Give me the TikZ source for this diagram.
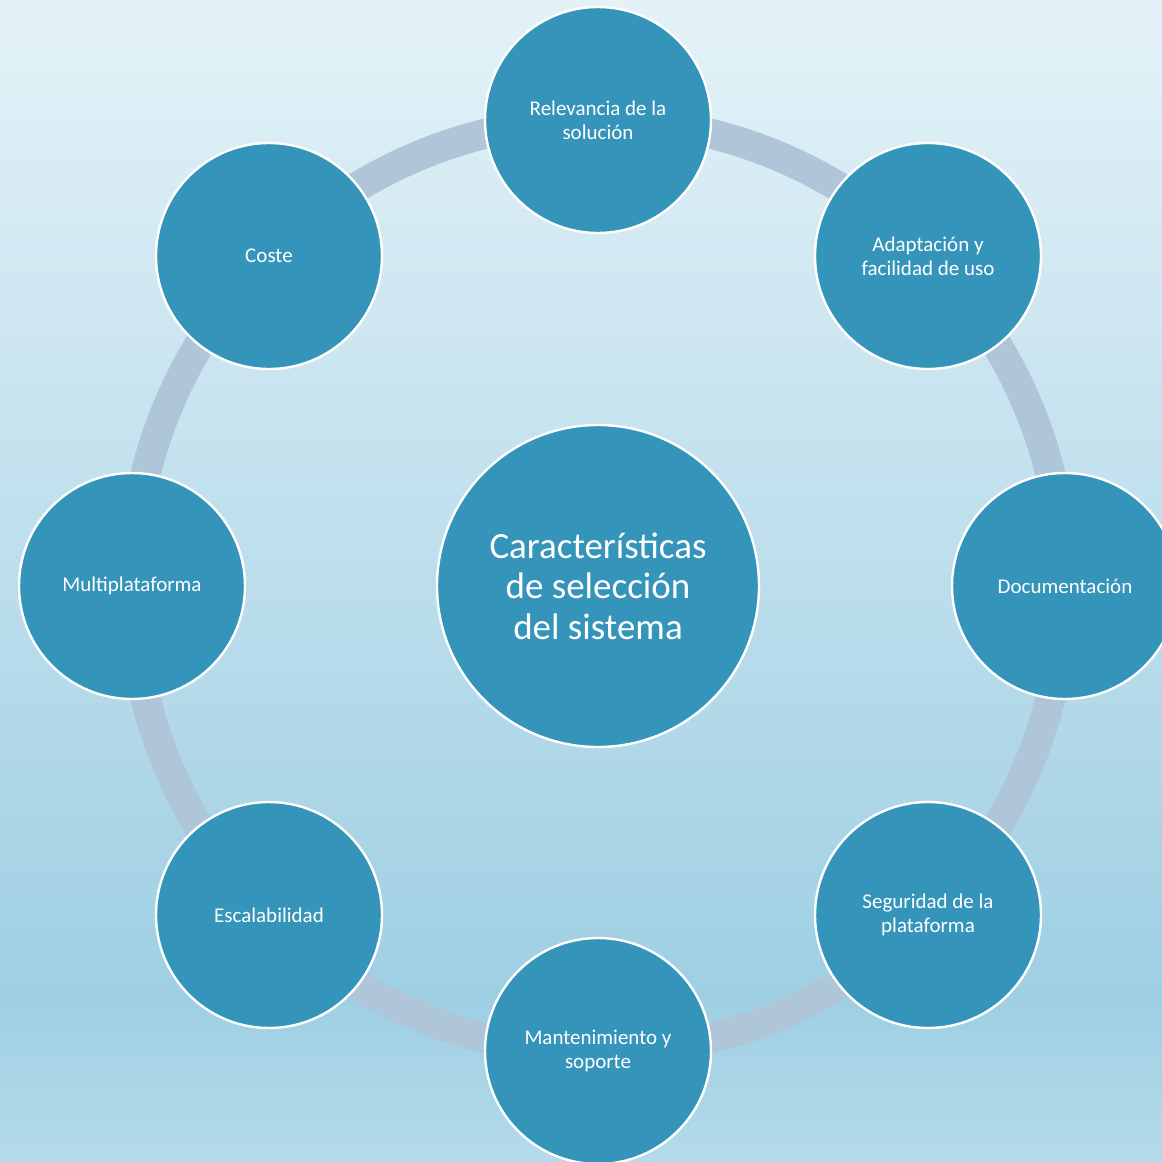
\documentclass[tikz,border=0pt]{standalone}
\usepackage{fontspec}
\setmainfont{Carlito}
\definecolor{bgtop}{HTML}{E4F2F8}
\definecolor{bgmid}{HTML}{9FCFE3}
\definecolor{bgbot}{HTML}{B4DBEB}
\definecolor{ringcol}{HTML}{AEC6D8}
\definecolor{nodefill}{HTML}{3494BA}
\pgfdeclareverticalshading{bgshade}{100bp}{color(0bp)=(bgbot); color(25bp)=(bgbot); color(32bp)=(bgmid); color(75bp)=(bgtop); color(100bp)=(bgtop)}
\tikzset{
  bubble/.style={circle, fill=nodefill, draw=white, line width=2.4pt, minimum size=226pt, inner sep=0pt, text=white, align=center, font=\fontsize{21}{24}\selectfont},
  hub/.style={bubble, minimum size=322pt, font=\fontsize{37}{40.5}\selectfont},
  ringline/.style={draw=ringcol, line width=30pt}
}
\begin{document}
\begin{tikzpicture}[x=1pt,y=-1pt]
\useasboundingbox (0,0) rectangle (1162,1162);
\clip (0,0) rectangle (1162,1162);
\shade[shading=bgshade] (0,0) rectangle (1162,1162);
\coordinate (c) at (598,586);
\draw[ringline] (c) circle[radius=466];
\node[hub] (hub) at (c) {Características\\de selección\\del sistema};
\node[bubble] (rel) at (598,120) {Relevancia de la\\solución};
\node[bubble] (ada) at (928,256) {Adaptación y\\facilidad de uso};
\node[bubble] (doc) at (1065,586) {Documentación};
\node[bubble] (seg) at (928,915) {Seguridad de la\\plataforma};
\node[bubble] (man) at (598,1051) {Mantenimiento y\\soporte};
\node[bubble] (esc) at (269,915) {Escalabilidad};
\node[bubble] (mul) at (132,586) {Multiplataforma};
\node[bubble] (cos) at (269,256) {Coste};
\end{tikzpicture}
\end{document}
